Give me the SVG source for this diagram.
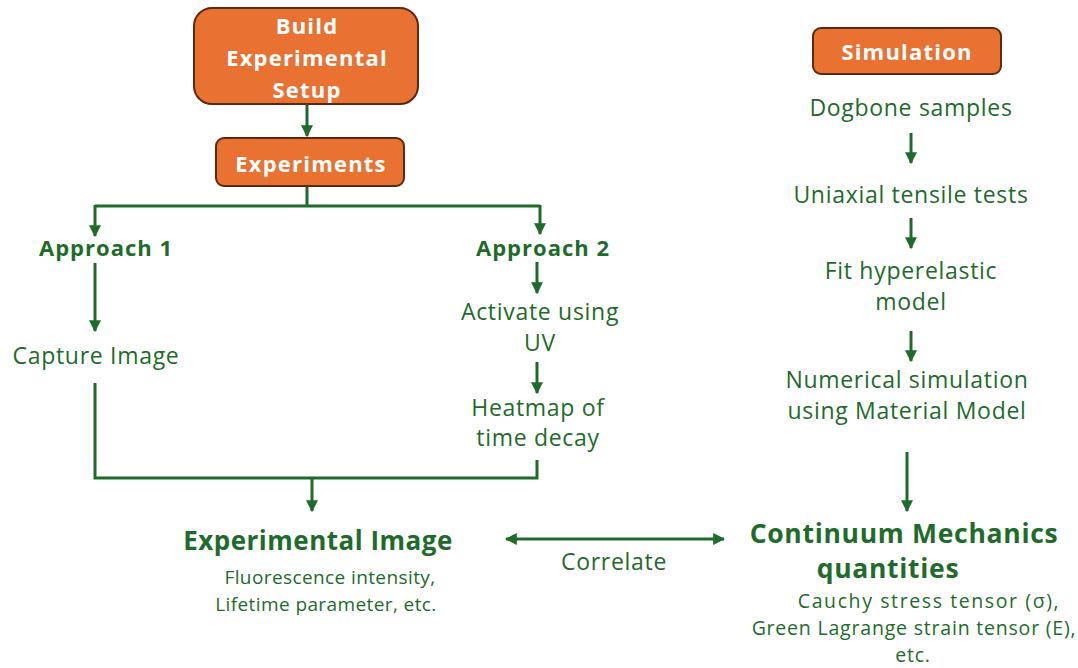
<svg xmlns="http://www.w3.org/2000/svg" width="1078" height="668" viewBox="0 0 1078 668">
  <style>
    .box { fill: #E97132; stroke: #5B2A12; stroke-width: 2; }
    text { font-family: "Open Sans", "Liberation Sans", sans-serif; text-anchor: middle; dominant-baseline: central; }
    .btxt { font-weight: 700; font-size: 22px; letter-spacing: 1.2px; fill: #ffffff; }
    .t { font-size: 23px; letter-spacing: 0.7px; fill: #1E6B2B; }
    .tb { font-weight: 700; font-size: 22px; letter-spacing: 1px; fill: #1E6B2B; }
    .th { font-weight: 700; font-size: 26px; letter-spacing: 0.5px; fill: #1E6B2B; }
    .th2 { font-weight: 700; font-size: 26.5px; letter-spacing: 0.7px; fill: #1E6B2B; }
    .ts { font-size: 19px; letter-spacing: 0.4px; fill: #1E6B2B; }
    .ts2 { font-size: 19.5px; letter-spacing: 0.8px; fill: #1E6B2B; }
    .ln { fill: none; stroke: #1E6B2B; stroke-width: 3; }
    .ar { fill: none; stroke: #1E6B2B; stroke-width: 3; marker-end: url(#ah); }
  </style>
  <defs>
    <marker id="ah" viewBox="0 0 10 10" refX="9" refY="5" markerWidth="4" markerHeight="4" orient="auto" markerUnits="strokeWidth">
      <path d="M0,0 L10,5 L0,10 z" fill="#1E6B2B"/>
    </marker>
    <marker id="as" viewBox="0 0 10 10" refX="1" refY="5" markerWidth="4" markerHeight="4" orient="auto" markerUnits="strokeWidth">
      <path d="M10,0 L0,5 L10,10 z" fill="#1E6B2B"/>
    </marker>
  </defs>

  <g id="connectors">
    <path class="ar" d="M307,105 V136"/>
    <path class="ln" d="M307,187 V206 M95,206 H540"/>
    <path class="ar" d="M95,205 V236"/>
    <path class="ar" d="M540,205 V234"/>
    <path class="ar" d="M95,263 V331"/>
    <path class="ar" d="M537,262 V293"/>
    <path class="ar" d="M537,362 V393"/>
    <path class="ln" d="M95,383 V478 H537 V460"/>
    <path class="ar" d="M312,478 V511"/>
    <path class="ar" d="M911,133 V163"/>
    <path class="ar" d="M911,218 V248"/>
    <path class="ar" d="M911,331 V361"/>
    <path class="ar" d="M907,452 V511"/>
    <path class="ar" d="M506,539 H724" marker-start="url(#as)"/>
  </g>

  <g id="build-setup">
    <rect class="box" x="194" y="8" width="224" height="96" rx="18"/>
    <text class="btxt" x="307" y="25">Build</text>
    <text class="btxt" x="307" y="57">Experimental</text>
    <text class="btxt" x="307" y="89">Setup</text>
  </g>

  <g id="experiments">
    <rect class="box" x="216" y="138" width="188" height="48" rx="8"/>
    <text class="btxt" x="311" y="163">Experiments</text>
  </g>

  <g id="approach-1">
    <text class="tb" x="106" y="247">Approach 1</text>
  </g>
  <g id="capture-image">
    <text class="t" x="96" y="355">Capture Image</text>
  </g>

  <g id="approach-2">
    <text class="tb" x="543" y="247">Approach 2</text>
  </g>
  <g id="activate-uv">
    <text class="t" x="540" y="311">Activate using</text>
    <text class="t" x="540" y="342">UV</text>
  </g>
  <g id="heatmap">
    <text class="t" x="538" y="407">Heatmap of</text>
    <text class="t" x="538" y="437">time decay</text>
  </g>

  <g id="experimental-image">
    <text class="th" x="318" y="540">Experimental Image</text>
    <text class="ts" x="330" y="577">Fluorescence intensity,</text>
    <text class="ts" x="326" y="604">Lifetime parameter, etc.</text>
  </g>

  <g id="correlate">
    <text class="t" x="614" y="561">Correlate</text>
  </g>

  <g id="simulation">
    <rect class="box" x="813" y="28" width="188" height="46" rx="8"/>
    <text class="btxt" x="907" y="51">Simulation</text>
  </g>
  <g id="dogbone">
    <text class="t" x="911" y="107">Dogbone samples</text>
  </g>
  <g id="uniaxial">
    <text class="t" x="911" y="194">Uniaxial tensile tests</text>
  </g>
  <g id="fit-model">
    <text class="t" x="911" y="270">Fit hyperelastic</text>
    <text class="t" x="911" y="301">model</text>
  </g>
  <g id="numerical-sim">
    <text class="t" x="907" y="379">Numerical simulation</text>
    <text class="t" x="907" y="410">using Material Model</text>
  </g>

  <g id="continuum">
    <text class="th2" x="904" y="533">Continuum Mechanics</text>
    <text class="th2" x="888" y="568">quantities</text>
    <text class="ts2" x="929" y="600" style="letter-spacing:1.6px">Cauchy stress tensor (σ),</text>
    <text class="ts2" x="914" y="627">Green Lagrange strain tensor (E),</text>
    <text class="ts2" x="913" y="654">etc.</text>
  </g>
</svg>
